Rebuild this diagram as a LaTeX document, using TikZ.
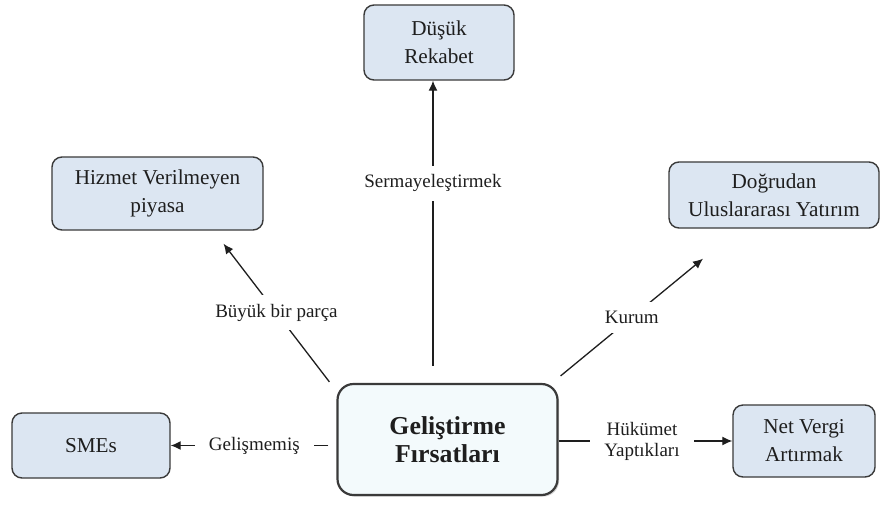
\documentclass[tikz,border=0pt]{standalone}
\usepackage{fontspec}
\setmainfont{LiberationSerif}[Extension=.ttf, UprightFont=*-Regular, BoldFont=*-Bold, ItalicFont=*-Italic, BoldItalicFont=*-BoldItalic]
\usetikzlibrary{arrows.meta,shadows}
\definecolor{boxfill}{HTML}{DCE6F2}
\definecolor{mainfill}{HTML}{F3FAFC}
\definecolor{edge}{HTML}{3A3A3A}
\definecolor{txt}{HTML}{1E1E1E}
\begin{document}
\begin{tikzpicture}[x=0.5pt,y=-0.5pt,
  box/.style={draw=edge, line width=0.7pt, fill=boxfill, rounded corners=5pt,
    align=center, text=txt, inner sep=0pt,
    font=\rmfamily\fontsize{10.6}{14}\selectfont},
  mainbox/.style={draw=edge, line width=1.1pt, fill=mainfill, rounded corners=8pt,
    align=center, text=txt, inner sep=0pt,
    drop shadow={shadow xshift=0.8pt, shadow yshift=-0.8pt, opacity=0.35},
    font=\rmfamily\fontsize{12.9}{14}\selectfont\bfseries},
  lbl/.style={fill=white, text=txt, align=center, inner xsep=7pt, inner ysep=4.5pt,
    font=\rmfamily\fontsize{9.5}{10.5}\selectfont},
  arr/.style={draw=txt, line width=0.65pt, -{Latex[length=5pt,width=4.5pt]}},
  ln/.style={draw=txt, line width=0.65pt}]
\useasboundingbox (0,0) rectangle (882,504);
\fill[white] (0,0) rectangle (882,504);

\node[mainbox, minimum width=110pt, minimum height=55.5pt] (main) at (447.5,439.5)
  {Geliştirme\\Fırsatları};
\node[box, minimum width=75pt, minimum height=37.5pt] (rek) at (439,42.5) {Düşük\\Rekabet};
\node[box, minimum width=105.5pt, minimum height=36.5pt] (hiz) at (157.5,193.5) {Hizmet Verilmeyen\\piyasa};
\node[box, minimum width=105pt, minimum height=33pt] (dog) at (774,195) {Doğrudan\\Uluslararası Yatırım};
\node[box, minimum width=79pt, minimum height=32.5pt] (sme) at (91,445.5) {SMEs};
\node[box, minimum width=71pt, minimum height=36pt] (net) at (804,441) {Net Vergi\\Artırmak};

% vertical
\coordinate (t1) at ([xshift=-7.25pt,yshift=8.5pt]main.north);
\draw[arr] (t1) -- (rek.south -| t1)
  node[lbl, pos=0.64] {Sermayeleştirmek};
% left diagonal
\coordinate (t2) at ([xshift=-3.5pt,yshift=0.5pt]main.north west);
\coordinate (h2) at ([xshift=33pt,yshift=-6.5pt]hiz.south);
\draw[arr] (t2) -- (h2) node[lbl, midway] {Büyük bir parça};
% right diagonal
\coordinate (t3) at ([xshift=1pt,yshift=3.5pt]main.north east);
\coordinate (h3) at ([xshift=-35.5pt,yshift=-15pt]dog.south);
\draw[arr] (t3) -- (h3) node[lbl, midway] {Kurum};
% left horizontal
\draw[arr] ([xshift=-4pt]main.west |- sme.east) -- (sme.east)
  node[lbl, pos=0.47] {Gelişmemiş};
% right horizontal
\draw[arr] (main.east |- net.west) -- (net.west)
  node[lbl, pos=0.48] {Hükümet\\Yaptıkları};
\end{tikzpicture}
\end{document}
